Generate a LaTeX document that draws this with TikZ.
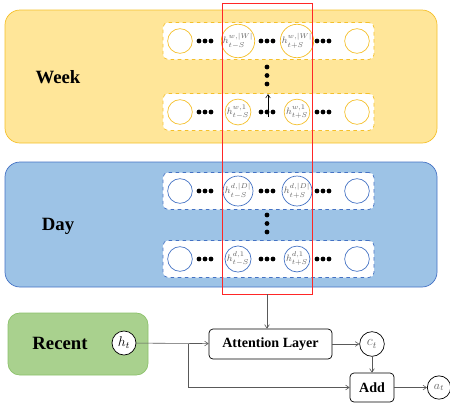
\documentclass[tikz,border=0pt]{standalone}
\usepackage{fontspec}
\setmainfont{Liberation Serif}
\usetikzlibrary{arrows.meta}
\definecolor{weekfill}{HTML}{FFE699}
\definecolor{weekline}{HTML}{F5C02A}
\definecolor{dayfill}{HTML}{9DC3E6}
\definecolor{dayline}{HTML}{4472C4}
\definecolor{recfill}{HTML}{A9D18E}
\definecolor{recline}{HTML}{8CC26B}
\tikzset{
  period/.style={rounded corners=0.45cm,line width=0.6pt},
  seqrow/.style={draw,dashed,fill=white,rounded corners=0.15cm,line width=0.6pt,
    minimum width=6.33cm,minimum height=1.11cm,inner sep=0pt},
  cell/.style={circle,draw,fill=white,line width=0.6pt,minimum size=0.74cm,inner sep=0pt,
    font=\footnotesize,text=black!60},
  op/.style={draw,rounded corners=0.12cm,fill=white,line width=0.6pt,font=\bfseries\fontsize{12}{14}\selectfont},
  conn/.style={-{Straight Barb[length=3pt,width=4pt]},black!65,line width=0.5pt},
  title/.style={font=\bfseries\fontsize{16}{18}\selectfont}
}
\begin{document}
\begin{tikzpicture}[x=0.03cm,y=-0.03cm]
\useasboundingbox (0,0) rectangle (450,409);
% the three periods
\draw[period,fill=weekfill,draw=weekline] (5,10) rectangle (437,143);
\draw[period,fill=dayfill,draw=dayline] (5,162) rectangle (437,287);
\draw[period,rounded corners=0.35cm,fill=recfill,draw=recline] (8,313) rectangle (148,375);
\node[title] (week) at (58,77) {Week};
\node[title] (day) at (58,226) {Day};
\node[title] (recent) at (60,343) {Recent};
% sequence rows
\foreach \y/\lab/\nm/\col in {41/{w,|W|}/wa/weekline,112/{w,1}/wb/weekline,191/{d,|D|}/da/dayline,259/{d,1}/db/dayline}{
  \node[seqrow,draw=\col] (\nm) at (268.5,\y) {};
  \node[cell,draw=\col] (\nm1) at (180,\y) {};
  \node[cell,draw=\col] (\nm2) at (238,\y) {$h^{\lab}_{t-S}$};
  \node[cell,draw=\col] (\nm3) at (297,\y) {$h^{\lab}_{t+S}$};
  \node[cell,draw=\col] (\nm4) at (357,\y) {};
  \foreach \x in {205,267,323}
    \foreach \d in {-6,0,6}
      \fill (\x+\d,\y) circle (0.072cm);
}
\foreach \y in {67,75.5,84,215,223.5,232}
  \fill (267,\y) circle (0.072cm);
\coordinate (wup0) at (268,117);
\coordinate (wup1) at (268,94);
\draw[conn,black] (wup0) -- (wup1);
% window
\node[draw=red!85,line width=0.7pt,minimum width=2.7cm,minimum height=8.73cm,inner sep=0pt] (win) at (267,148.5) {};
% recent part
\node[cell,draw=black,text=black,font=\large,minimum size=0.72cm] (ht) at (124,343) {$h_t$};
\node[op,minimum width=3.69cm,minimum height=0.9cm] (attn) at (270.5,344) {Attention Layer};
\node[cell,draw=black,font=\large,minimum size=0.74cm] (ct) at (372,344) {$c_t$};
\node[op,minimum width=1.32cm,minimum height=0.87cm] (add) at (372,387.5) {Add};
\node[cell,draw=black,font=\normalsize,minimum size=0.7cm] (at) at (439,387.5) {$a_t$};
\coordinate (br) at (188,344);
\draw[conn] (win.south) -- (win.south |- attn.north);
\draw[conn] (ht) -- (attn);
\draw[conn] (br) |- (add);
\draw[conn] (attn) -- (ct);
\draw[conn] (ct) -- (add);
\draw[conn] (add) -- (at);
\end{tikzpicture}
\end{document}
